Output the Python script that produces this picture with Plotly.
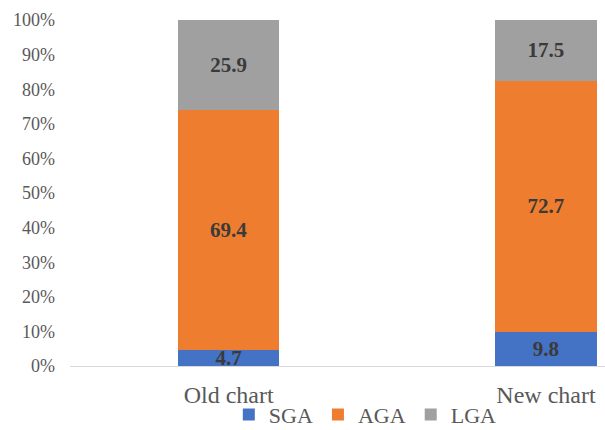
import plotly.graph_objects as go

categories = ["Old chart", "New chart"]
series_names = ["SGA", "AGA", "LGA"]
sga = [4.7, 9.8]
aga = [69.4, 72.7]
lga = [25.9, 17.5]
y_ticks = [0, 10, 20, 30, 40, 50, 60, 70, 80, 90, 100]
y_tick_labels = [f"{v}%" for v in y_ticks]

colors = ["#4472C4", "#EF7D2F", "#A0A0A0"]
values = [sga, aga, lga]
SERIF = "Liberation Serif"

fig = go.Figure()
for name, vals, col in zip(series_names, values, colors):
    fig.add_trace(go.Bar(
        x=categories, y=vals, name=name,
        marker=dict(color=col, line=dict(width=0)),
        width=0.32,
        text=[f"{v:.1f}" for v in vals],
        textposition="inside",
        insidetextanchor="middle",
        constraintext="none",
        textangle=0,
        textfont=dict(family=SERIF, size=21, color="#3a3a3a", weight="bold"),
    ))

fig.update_layout(
    barmode="stack",
    width=605, height=430,
    margin=dict(l=70, r=0, t=20, b=64, autoexpand=False),
    paper_bgcolor="white", plot_bgcolor="white",
    font=dict(family=SERIF, color="#595959"),
    showlegend=True,
    legend=dict(
        orientation="h", x=0.552, xanchor="center", y=-0.08, yanchor="top",
        traceorder="normal",
        font=dict(family=SERIF, size=22, color="#595959"),
        itemwidth=30,
        tracegroupgap=0,
        bgcolor="rgba(0,0,0,0)",
    ),
    xaxis=dict(
        type="category", range=[-0.5, 1.186],
        showline=True, linecolor="#d9d9d9", linewidth=1,
        showgrid=False, ticks="",
        tickfont=dict(family=SERIF, size=24, color="#595959"),
        ticklabelstandoff=7,
    ),
    yaxis=dict(
        range=[0, 100], tickvals=y_ticks, ticktext=y_tick_labels,
        showgrid=False, showline=False, zeroline=False, ticks="",
        tickfont=dict(family=SERIF, size=18, color="#595959"),
        ticklabelstandoff=14,
    ),
)

fig.write_html("out.html")
